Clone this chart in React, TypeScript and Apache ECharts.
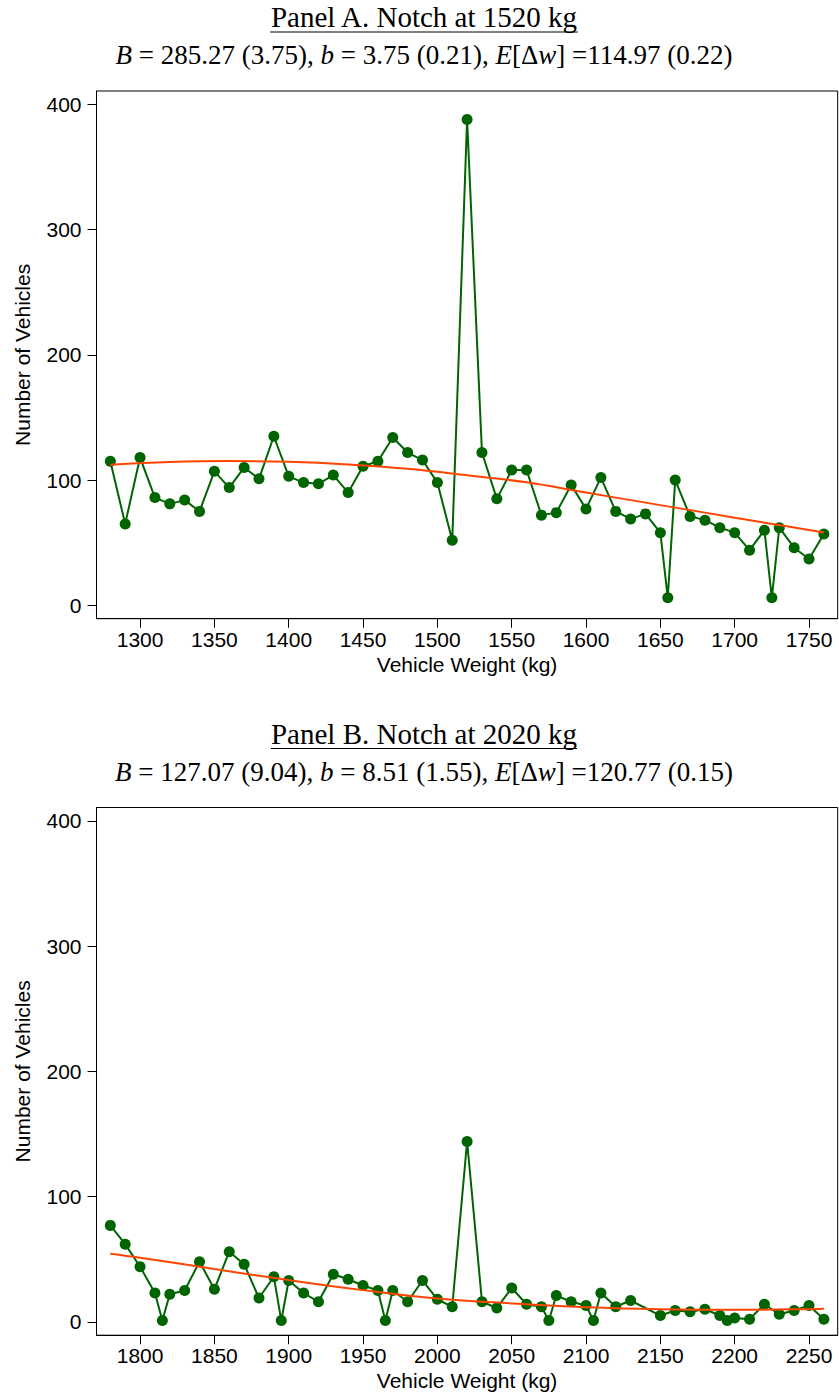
import React, { useEffect, useRef } from 'react';
import * as echarts from 'echarts';

// ---------------- Data ----------------
const weightsA = [1280, 1290, 1300, 1310, 1320, 1330, 1340, 1350, 1360, 1370, 1380, 1390, 1400, 1410, 1420, 1430, 1440, 1450, 1460, 1470, 1480, 1490, 1500, 1510, 1520, 1530, 1540, 1550, 1560, 1570, 1580, 1590, 1600, 1610, 1620, 1630, 1640, 1650, 1655, 1660, 1670, 1680, 1690, 1700, 1710, 1720, 1725, 1730, 1740, 1750, 1760];
const countsA = [115, 65, 118, 86, 81, 84, 75, 107, 94, 110, 101, 135, 103, 98, 97, 104, 90, 111, 115, 134, 122, 116, 98, 52, 388, 122, 85, 108, 108, 72, 74, 96, 77, 102, 75, 69, 73, 58, 6, 100, 71, 68, 62, 58, 44, 60, 6, 62, 46, 37, 57];
const fitWeightsA = [1280, 1320, 1360, 1400, 1440, 1480, 1520, 1560, 1600, 1640, 1680, 1720, 1760];
const fitValuesA = [112.2, 114.4, 115.2, 114.6, 112.5, 109, 103.8, 98.2, 90, 82, 74, 66, 58.2];

const weightsB = [1780, 1790, 1800, 1810, 1815, 1820, 1830, 1840, 1850, 1860, 1870, 1880, 1890, 1895, 1900, 1910, 1920, 1930, 1940, 1950, 1960, 1965, 1970, 1980, 1990, 2000, 2010, 2020, 2030, 2040, 2050, 2060, 2070, 2075, 2080, 2090, 2100, 2105, 2110, 2120, 2130, 2150, 2160, 2170, 2180, 2190, 2195, 2200, 2210, 2220, 2230, 2240, 2250, 2260];
const countsB = [77, 62, 44, 23, 1, 22, 25, 48, 26, 56, 46, 19, 36, 1, 33, 23, 16, 38, 34, 29, 25, 1, 25, 16, 33, 18, 12, 144, 16, 11, 27, 14, 12, 1, 21, 16, 13, 1, 23, 12, 17, 5, 9, 8, 10, 5, 1, 3, 2, 14, 6, 9, 13, 2];
const fitWeightsB = [1780, 1800, 1850, 1900, 1950, 2000, 2050, 2100, 2150, 2200, 2250, 2260];
const fitValuesB = [54.4, 51.2, 42.1, 33.3, 25.3, 18.6, 14.7, 11.7, 10.1, 9.6, 10.1, 10.4];

const yTicks = [0, 100, 200, 300, 400];
const xTicksA = [1300, 1350, 1400, 1450, 1500, 1550, 1600, 1650, 1700, 1750];
const xTicksB = [1800, 1850, 1900, 1950, 2000, 2050, 2100, 2150, 2200, 2250];

const titleA = 'Panel A. Notch at 1520 kg';
const subtitleA = '{i|B} = 285.27 (3.75), {i|b} = 3.75 (0.21), {i|E}[Δ{i|w}] =114.97 (0.22)';
const titleB = 'Panel B. Notch at 2020 kg';
const subtitleB = '{i|B} = 127.07 (9.04), {i|b} = 8.51 (1.55), {i|E}[Δ{i|w}] =120.77 (0.15)';

const xTitle = 'Vehicle Weight (kg)';
const yTitle = 'Number of Vehicles';

// ---------------- Style / layout ----------------
const W = 839;
const H = 1398;
const SANS = '"Liberation Sans", Arial, Helvetica, sans-serif';
const SERIF = '"Liberation Serif", "Times New Roman", serif';
const GREEN = '#006400';
const ORANGE = '#FF4500';
const OFFSET_B = 716.5;
const GRID_LEFT = 96.5;
const GRID_TOP = 91;
const GRID_W = 741.2;
const GRID_H = 527.7;
const TITLE_X = 424;
const TITLE_SIZE = 29;
const SUB_SIZE = 27;

function makeXAxis(gridIndex: number, min: number, max: number, ticks: number[]) {
  return {
    type: 'value',
    gridIndex,
    min,
    max,
    name: xTitle,
    nameLocation: 'middle',
    nameGap: 35,
    nameTextStyle: { fontFamily: SANS, fontSize: 21, color: '#000' },
    axisLine: { show: true, onZero: false, lineStyle: { color: '#000', width: 1 } },
    axisTick: { show: true, length: 9, customValues: ticks, lineStyle: { color: '#000', width: 1 } },
    axisLabel: {
      show: true,
      customValues: ticks,
      formatter: (v: number) => String(v),
      fontFamily: SANS,
      fontSize: 21,
      color: '#000',
      margin: 10,
    },
    splitLine: { show: false },
  };
}

function makeYAxis(gridIndex: number) {
  return {
    type: 'value',
    gridIndex,
    min: -10.7,
    max: 410.7,
    name: yTitle,
    nameLocation: 'middle',
    nameGap: 64,
    nameTextStyle: { fontFamily: SANS, fontSize: 21, color: '#000' },
    axisLine: { show: true, lineStyle: { color: '#000', width: 1 } },
    axisTick: { show: true, length: 9, customValues: yTicks, lineStyle: { color: '#000', width: 1 } },
    axisLabel: {
      show: true,
      customValues: yTicks,
      formatter: (v: number) => String(v),
      fontFamily: SANS,
      fontSize: 21,
      color: '#000',
      margin: 15,
    },
    splitLine: { show: false },
  };
}

function pairs(xs: number[], ys: number[]) {
  return xs.map((x, i) => [x, ys[i]]);
}

function measure(text: string, size: number) {
  const c = document.createElement('canvas');
  const ctx = c.getContext('2d');
  if (!ctx) return 311;
  ctx.font = `${size}px ${SERIF}`;
  return ctx.measureText(text).width;
}

function headerGraphics(title: string, subtitle: string, off: number) {
  const w = measure(title, TITLE_SIZE);
  return [
    {
      type: 'text',
      x: TITLE_X,
      y: 17 + off,
      style: {
        text: title,
        fontFamily: SERIF,
        fontSize: TITLE_SIZE,
        fill: '#000',
        align: 'center',
        verticalAlign: 'middle',
      },
    },
    {
      type: 'line',
      shape: { x1: TITLE_X - w / 2, y1: 32 + off, x2: TITLE_X + w / 2, y2: 32 + off },
      style: { stroke: '#000', lineWidth: 1 },
    },
    {
      type: 'text',
      x: TITLE_X,
      y: 55 + off,
      style: {
        text: subtitle,
        fontFamily: SERIF,
        fontSize: SUB_SIZE,
        fill: '#000',
        align: 'center',
        verticalAlign: 'middle',
        rich: {
          i: { fontStyle: 'italic', fontFamily: SERIF, fontSize: SUB_SIZE, fill: '#000' },
        },
      },
    },
  ];
}

export default function App() {
  const ref = useRef<HTMLDivElement>(null);

  useEffect(() => {
    if (!ref.current) return;
    const chart = echarts.init(ref.current, undefined, { renderer: 'svg', width: W, height: H });

    const grids = [0, OFFSET_B].map((off) => ({
      left: GRID_LEFT,
      top: GRID_TOP + off,
      width: GRID_W,
      height: GRID_H,
      show: true,
      borderColor: '#000',
      borderWidth: 1,
      backgroundColor: '#fff',
      containLabel: false,
    }));

    const dataSeries = (idx: number, xs: number[], ys: number[]) => ({
      type: 'line',
      xAxisIndex: idx,
      yAxisIndex: idx,
      data: pairs(xs, ys),
      symbol: 'circle',
      symbolSize: 11,
      showSymbol: true,
      itemStyle: { color: GREEN, borderWidth: 0 },
      lineStyle: { color: GREEN, width: 2 },
      z: 2,
    });

    const fitSeries = (idx: number, xs: number[], ys: number[]) => ({
      type: 'line',
      xAxisIndex: idx,
      yAxisIndex: idx,
      data: pairs(xs, ys),
      smooth: 0.4,
      symbol: 'none',
      showSymbol: false,
      lineStyle: { color: ORANGE, width: 2 },
      z: 3,
    });

    chart.setOption({
      animation: false,
      backgroundColor: '#fff',
      grid: grids,
      xAxis: [makeXAxis(0, 1270.7, 1769.3, xTicksA), makeXAxis(1, 1770.7, 2269.3, xTicksB)],
      yAxis: [makeYAxis(0), makeYAxis(1)],
      series: [
        dataSeries(0, weightsA, countsA),
        fitSeries(0, fitWeightsA, fitValuesA),
        dataSeries(1, weightsB, countsB),
        fitSeries(1, fitWeightsB, fitValuesB),
      ],
      graphic: [...headerGraphics(titleA, subtitleA, 0), ...headerGraphics(titleB, subtitleB, OFFSET_B)],
    });

    return () => chart.dispose();
  }, []);

  return (
    <div
      ref={ref}
      style={{ position: 'absolute', left: 0, top: 0, width: W, height: H, background: '#fff' }}
    />
  );
}
